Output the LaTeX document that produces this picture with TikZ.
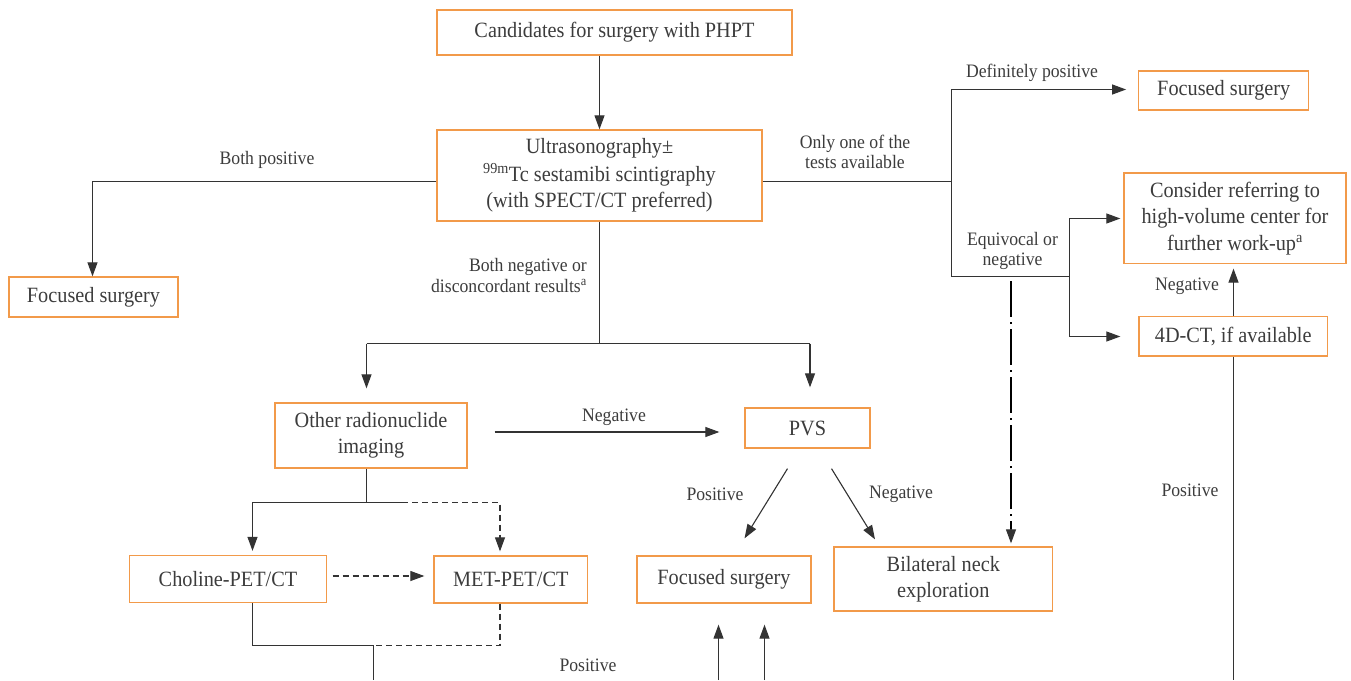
\documentclass[tikz,border=0pt]{standalone}
\usepackage{fontspec}
\setmainfont{Liberation Serif}[FakeStretch=0.93]
\usetikzlibrary{arrows.meta,calc}
\definecolor{boxor}{HTML}{F29A4A}
\definecolor{txt}{HTML}{3C3C3C}
\definecolor{ln}{HTML}{333333}
\tikzset{
  x=1pt, y=-1pt,
  box/.style={draw=boxor, line width=1.3pt, inner sep=0pt, align=center, text=txt,
    font=\rmfamily\fontsize{21.8}{26.5}\selectfont},
  lbl/.style={inner sep=0pt, text=txt, align=center, font=\rmfamily\fontsize{19}{20.5}\selectfont},
  conn/.style={draw=ln, line width=1.1pt},
  arr/.style={conn, -{Triangle[length=14pt,width=10pt]}},
  dsh/.style={conn, dash pattern=on 6pt off 4pt},
  dashdot/.style={draw=black, line width=1.4pt, dash pattern=on 36pt off 5pt on 2pt off 5pt},
}
\begin{document}
\begin{tikzpicture}
\useasboundingbox (0,0) rectangle (1351,680);

% boxes
\node[box, minimum width=355pt, minimum height=45pt] (cand) at (614.5,32.5) {Candidates for surgery with PHPT};
\node[box, minimum width=325pt, minimum height=91pt] (us) at (599.5,175.5) {Ultrasonography±\\[1pt]\textsuperscript{99m}Tc sestamibi scintigraphy\\(with SPECT/CT preferred)};
\node[box, minimum width=169pt, minimum height=40pt] (fsL) at (93.5,297) {Focused surgery};
\node[box, minimum width=192pt, minimum height=65pt] (ori) at (371,435.5) {Other radionuclide\\imaging};
\node[box, minimum width=125pt, minimum height=40pt] (pvs) at (807.5,428) {PVS};
\node[box, minimum width=197pt, minimum height=47pt] (chol) at (228,579) {Choline-PET/CT};
\node[box, minimum width=153.5pt, minimum height=47pt] (met) at (510.75,579.5) {MET-PET/CT};
\node[box, minimum width=174pt, minimum height=47pt] (fsM) at (724,579.5) {Focused surgery};
\node[box, minimum width=218.6pt, minimum height=64pt] (bne) at (943.3,579) {Bilateral neck\\exploration};
\node[box, minimum width=170pt, minimum height=39pt] (fsR) at (1223.75,90.5) {Focused surgery};
\node[box, minimum width=222pt, minimum height=90.7pt] (cref) at (1235,218.3) {Consider referring to\\high-volume center for\\further work-up\textsuperscript{a}};
\node[box, minimum width=188.5pt, minimum height=39.3pt] (ct4) at (1233.25,336.3) {4D-CT, if available};

% labels
\node[lbl] (lBP) at (267,160) {Both positive};
\node[lbl, anchor=east, align=right] (lBN) at (587,275.5) {Both negative or\\disconcordant results\textsuperscript{a}};
\node[lbl] (lNeg1) at (614,417) {Negative};
\node[lbl] (lPos1) at (588,665) {Positive};
\node[lbl] (lPos2) at (715,494) {Positive};
\node[lbl] (lNeg2) at (901,494) {Negative};
\node[lbl] (lOnly) at (855,152) {Only one of the\\tests available};
\node[lbl] (lDef) at (1032,73) {Definitely positive};
\node[lbl] (lEq) at (1012.5,251) {Equivocal or\\negative};
\node[lbl] (lNeg3) at (1187,286) {Negative};
\node[lbl] (lPos3) at (1190,490) {Positive};

% junction coordinates
\coordinate (split) at (599.5,343.5);
\coordinate (jOri) at (366.5,502.5);
\coordinate (jOriD) at (402,502.5);
\coordinate (jLow) at (373.5,645.5);
\coordinate (jR) at (951.5,181.5);
\coordinate (jRT) at (951.5,89.5);
\coordinate (jRB) at (951.5,276.5);
\coordinate (jRB2) at (1069.5,276.5);
\coordinate (jRA) at (1069.5,218.5);
\coordinate (jRC) at (1069.5,336.5);
\coordinate (dd) at (1011,281);
\coordinate (bot1) at (373.5,680);
\coordinate (bot2) at (718.5,680);
\coordinate (bot3) at (764.5,680);
\coordinate (bot4) at (1233.5,680);

% connectors
\draw[arr] (cand.south -| us.north) -- (us.north);
\draw[arr] ([yshift=-6pt]us.west) -| ([xshift=-1pt]fsL.north);
\draw[conn] (us.south) -- (split);
\draw[conn] (split -| jOri) -- ([xshift=2.5pt]split -| pvs.north);
\draw[arr] (split -| jOri) -- ([yshift=14pt]ori.north -| jOri);
\draw[arr] ([xshift=2.5pt]split -| pvs.north) -- ([xshift=2.5pt,yshift=20pt]pvs.north);
\draw[arr] ([xshift=27pt,yshift=3.5pt]ori.east) -- ([xshift=-25pt,yshift=3.5pt]ori.east -| pvs.west);

\draw[conn] (ori.south -| jOri) -- (jOri);
\draw[arr] (jOriD) -| ([xshift=24.5pt,yshift=4pt]chol.north);
\draw[dsh, -{Triangle[length=14pt,width=10pt]}] (jOriD) -| ([xshift=-10.75pt,yshift=4pt]met.north);
\draw[dsh, -{Triangle[length=14pt,width=10pt]}] ([xshift=5.5pt,yshift=3pt]chol.east) -- ([xshift=-9pt,yshift=3.5pt]met.west);
\draw[conn] ([xshift=24.5pt]chol.south) |- (jLow) -- (bot1);
\draw[dsh] ([xshift=-10.75pt]met.south) |- (jLow);

\draw[arr] ([xshift=-20pt,yshift=-20pt]pvs.south) -- ([xshift=20.5pt,yshift=17pt]fsM.north);
\draw[arr] ([xshift=24pt,yshift=-20pt]pvs.south) -- ([xshift=-68.3pt,yshift=7pt]bne.north);
\draw[arr] (bot2) -- ([yshift=-21pt]fsM.south -| bot2);
\draw[arr] (bot3) -- ([yshift=-21pt]fsM.south -| bot3);

\draw[conn] ([yshift=-6pt]us.east) -- (jR);
\draw[arr] (jRB) -- (jRT) -- ([xshift=-12pt]fsR.west |- jRT);
\draw[conn] (jRB) -- (jRB2);
\draw[arr] (jRB2) -- (jRA) -- ([xshift=-3pt]cref.west |- jRA);
\draw[arr] (jRB2) -- (jRC) -- ([xshift=-18pt]ct4.west |- jRC);
\draw[arr] (ct4.north -| bot4) -- ([yshift=-4.3pt]cref.south -| bot4);
\draw[conn] (ct4.south -| bot4) -- (bot4);
\draw[dashdot] (dd) -- ([yshift=17pt]bne.north -| dd);
\draw[arr] ([yshift=17pt]bne.north -| dd) -- ([yshift=3pt]bne.north -| dd);
\end{tikzpicture}
\end{document}
